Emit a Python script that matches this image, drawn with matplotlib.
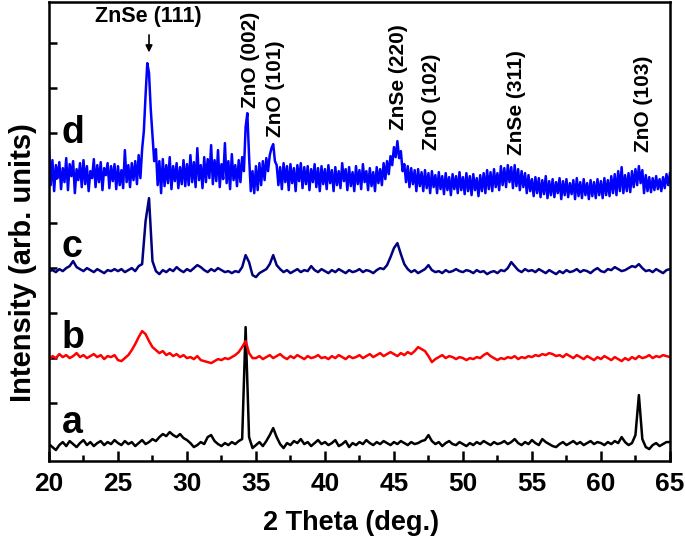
import numpy as np
import matplotlib
matplotlib.use("Agg")
import matplotlib.pyplot as plt
from matplotlib.ticker import MultipleLocator

plt.rcParams["font.family"] = ["Liberation Sans", "DejaVu Sans"]
plt.rcParams["font.weight"] = "bold"

# 2-theta grids: 0.25 deg step for a-c, 0.125 deg step for the noisy d scan
two_theta = np.linspace(20, 65, 181)
two_theta_d = np.linspace(20, 65, 361)

# intensities (arb. units, offset stacked)
a_vals = [17, 14, 11, 16, 19, 15, 20, 17, 14, 18, 21, 16, 19, 15, 18, 20, 16, 19, 17, 21,
          18, 16, 20, 17, 19, 15, 18, 21, 17, 19, 22, 20, 24, 27, 25, 29, 26, 24, 27, 23,
          21, 18, 14, 16, 19, 17, 24, 26, 20, 17, 15, 18, 16, 19, 17, 20, 22, 134, 24, 13,
          16, 19, 15, 20, 26, 33, 24, 17, 13, 18, 16, 20, 18, 22, 17, 19, 15, 18, 21, 17,
          19, 16, 18, 21, 15, 17, 20, 14, 18, 16, 19, 17, 21, 18, 16, 19, 17, 20, 18, 16,
          19, 17, 20, 18, 16, 19, 17, 18, 20, 21, 26, 20, 17, 19, 15, 18, 20, 17, 16, 19,
          17, 15, 18, 16, 19, 17, 20, 18, 16, 19, 17, 18, 20, 17, 19, 22, 18, 16, 19, 17,
          21, 18, 16, 22, 19, 17, 15, 14, 17, 19, 16, 18, 20, 17, 19, 16, 18, 20, 17, 19,
          18, 16, 19, 17, 20, 18, 24, 19, 16, 18, 26, 66, 22, 14, 12, 16, 18, 15, 17, 19,
          19]
b_vals = [101, 105, 103, 107, 104, 106, 103, 105, 108, 104, 106, 103, 105, 107, 104, 106, 102, 105, 104, 106,
          101, 100, 103, 106, 111, 117, 124, 130, 127, 120, 114, 111, 108, 110, 106, 108, 105, 107, 104, 106,
          103, 104, 102, 105, 101, 100, 99, 98, 100, 102, 101, 103, 102, 104, 106, 109, 114, 120, 108, 103,
          103, 105, 102, 104, 106, 103, 105, 107, 104, 102, 105, 103, 106, 104, 102, 105, 103, 104, 106, 103,
          104, 102, 105, 103, 106, 104, 102, 105, 103, 104, 106, 103, 105, 107, 104, 106, 108, 105, 107, 109,
          107, 105, 108, 106, 109, 107, 110, 114, 112, 110, 105, 99, 102, 104, 106, 103, 105, 104, 102, 104,
          103, 101, 103, 102, 104, 103, 106, 108, 105, 103, 101, 103, 102, 104, 103, 105, 102, 104, 103, 105,
          104, 106, 105, 107, 106, 108, 107, 105, 106, 104, 107, 105, 103, 106, 104, 102, 105, 103, 101, 104,
          102, 105, 103, 101, 104, 102, 100, 103, 101, 104, 102, 105, 103, 104, 106, 103, 105, 104, 106, 105,
          104]
c_vals = [190, 191, 189, 192, 190, 193, 195, 200, 194, 192, 190, 193, 191, 189, 192, 190, 188, 191, 190, 192,
          190, 192, 189, 191, 193, 190, 195, 197, 240, 263, 200, 190, 187, 191, 189, 192, 190, 194, 191, 189,
          192, 190, 193, 196, 194, 191, 189, 192, 190, 193, 191, 189, 190, 188, 190, 189, 194, 206, 199, 186,
          184, 188, 190, 192, 197, 206, 196, 192, 189, 191, 188, 190, 192, 189, 191, 190, 195, 191, 189, 192,
          190, 188, 191, 189, 192, 190, 188, 191, 189, 190, 192, 189, 191, 190, 188, 191, 193, 192, 196, 204,
          213, 218, 207, 197, 192, 189, 191, 188, 190, 192, 196, 191, 189, 190, 188, 191, 189, 190, 192, 190,
          189, 191, 190, 188, 191, 189, 190, 187, 189, 190, 188, 191, 190, 193, 199, 195, 191, 189, 192, 190,
          191, 189, 192, 190, 188, 191, 189, 187, 190, 188, 191, 189, 190, 192, 189, 191, 190, 188, 191, 193,
          190, 189, 192, 191, 194, 192, 190, 191, 193, 195, 194, 197, 193, 190, 191, 189, 192, 190, 188, 191,
          192]
d_vals = [312, 276, 301, 270, 296, 283, 299, 272, 293, 279, 303, 271, 297, 285, 300, 268, 292, 281, 298, 274,
          301, 277, 295, 270, 290, 283, 302, 274, 296, 279, 299, 271, 293, 286, 298, 273, 295, 280, 297, 272,
          295, 276, 291, 273, 311, 279, 296, 274, 298, 281, 300, 277, 306, 283, 312, 330, 366, 398, 388, 352,
          326, 300, 312, 276, 300, 268, 302, 275, 296, 278, 304, 272, 295, 280, 298, 273, 294, 277, 301, 275,
          297, 276, 306, 279, 299, 274, 313, 281, 296, 273, 304, 279, 302, 283, 316, 277, 301, 280, 311, 274,
          297, 282, 318, 278, 300, 272, 307, 281, 296, 275, 301, 279, 304, 290, 334, 348, 305, 270, 290, 268,
          295, 271, 298, 276, 300, 281, 303, 290, 306, 313, 317, 300, 296, 276, 294, 272, 298, 279, 295, 271,
          297, 278, 293, 270, 296, 280, 298, 273, 294, 277, 295, 271, 292, 279, 297, 274, 293, 270, 295, 277,
          292, 272, 296, 278, 291, 270, 294, 276, 290, 273, 298, 280, 292, 271, 294, 275, 289, 270, 295, 277,
          291, 272, 297, 279, 290, 271, 293, 275, 289, 270, 294, 278, 292, 276, 298, 282, 300, 287, 305, 296,
          314, 304, 320, 303, 310, 290, 297, 279, 295, 274, 293, 277, 291, 270, 292, 275, 289, 270, 291, 273,
          288, 268, 290, 274, 286, 268, 289, 272, 285, 267, 288, 271, 284, 266, 287, 272, 285, 268, 289, 271,
          284, 267, 288, 270, 285, 266, 287, 271, 283, 265, 286, 270, 288, 268, 291, 272, 289, 270, 292, 274,
          288, 271, 295, 276, 293, 274, 296, 279, 294, 273, 296, 275, 292, 271, 290, 274, 288, 268, 286, 270,
          282, 265, 284, 268, 283, 264, 281, 267, 285, 263, 280, 266, 282, 264, 279, 268, 283, 262, 280, 266,
          282, 264, 278, 267, 281, 262, 283, 265, 279, 263, 282, 266, 278, 262, 281, 265, 279, 263, 282, 266,
          280, 263, 283, 266, 281, 265, 285, 268, 287, 266, 290, 270, 294, 268, 286, 270, 288, 269, 290, 274,
          292, 276, 295, 278, 291, 268, 286, 270, 284, 269, 283, 271, 285, 272, 282, 270, 284, 273, 287, 276,
          288]

series = [("a", two_theta, a_vals, "black", 1.8),
          ("b", two_theta, b_vals, "#ff0000", 1.8),
          ("c", two_theta, c_vals, "#000080", 1.8),
          ("d", two_theta_d, d_vals, "#0000ff", 1.8)]
label_y = {"a": 28, "b": 113, "c": 204, "d": 318}

peaks = [("ZnO (002)", 34.57, 353), ("ZnO (101)", 36.38, 324),
         ("ZnSe (220)", 45.36, 331), ("ZnO (102)", 47.75, 311),
         ("ZnSe (311)", 53.9, 306), ("ZnO (103)", 63.1, 309)]

fig = plt.figure(figsize=(6.85, 5.45), dpi=100)
ax = fig.add_axes([0.0715, 0.154, 0.9065, 0.842])

for name, x, vals, col, lw in series:
    ax.plot(x, vals, color=col, lw=lw)
    ax.text(20.9, label_y[name], name, fontsize=27, fontweight="bold",
            ha="left", va="baseline")

for txt, x, y in peaks:
    ax.text(x, y, txt, rotation=90, fontsize=15, fontweight="bold",
            ha="center", va="bottom")

ax.text(27.2, 445, "ZnSe (111)", fontsize=15.5, fontweight="bold",
        ha="center", va="center")
ax.annotate("", xy=(27.25, 406), xytext=(27.25, 429),
            arrowprops=dict(arrowstyle="-|>", color="black", lw=1.2,
                            mutation_scale=10))

ax.set_xlim(20, 65)
ax.set_ylim(0, 459)
ax.xaxis.set_major_locator(MultipleLocator(5))
ax.xaxis.set_minor_locator(MultipleLocator(2.5))
ax.set_yticks(np.arange(58, 459, 45))
ax.set_yticklabels([])
ax.tick_params(axis="x", which="major", direction="in", length=7, width=1.8,
               labelsize=19, pad=8)
ax.tick_params(axis="x", which="minor", direction="in", length=4, width=1.8)
ax.tick_params(axis="y", direction="in", length=6, width=1.8)
for lab in ax.get_xticklabels():
    lab.set_fontweight("bold")
for sp in ax.spines.values():
    sp.set_linewidth(1.8)

fig.text(0.513, 0.040, "2 Theta (deg.)", fontsize=19.5, fontweight="bold",
         ha="center", va="center")
fig.text(0.033, 0.518, "Intensity (arb. units)", rotation=90, fontsize=21,
         fontweight="bold", ha="center", va="center")

fig.savefig("out.png", dpi=100)
